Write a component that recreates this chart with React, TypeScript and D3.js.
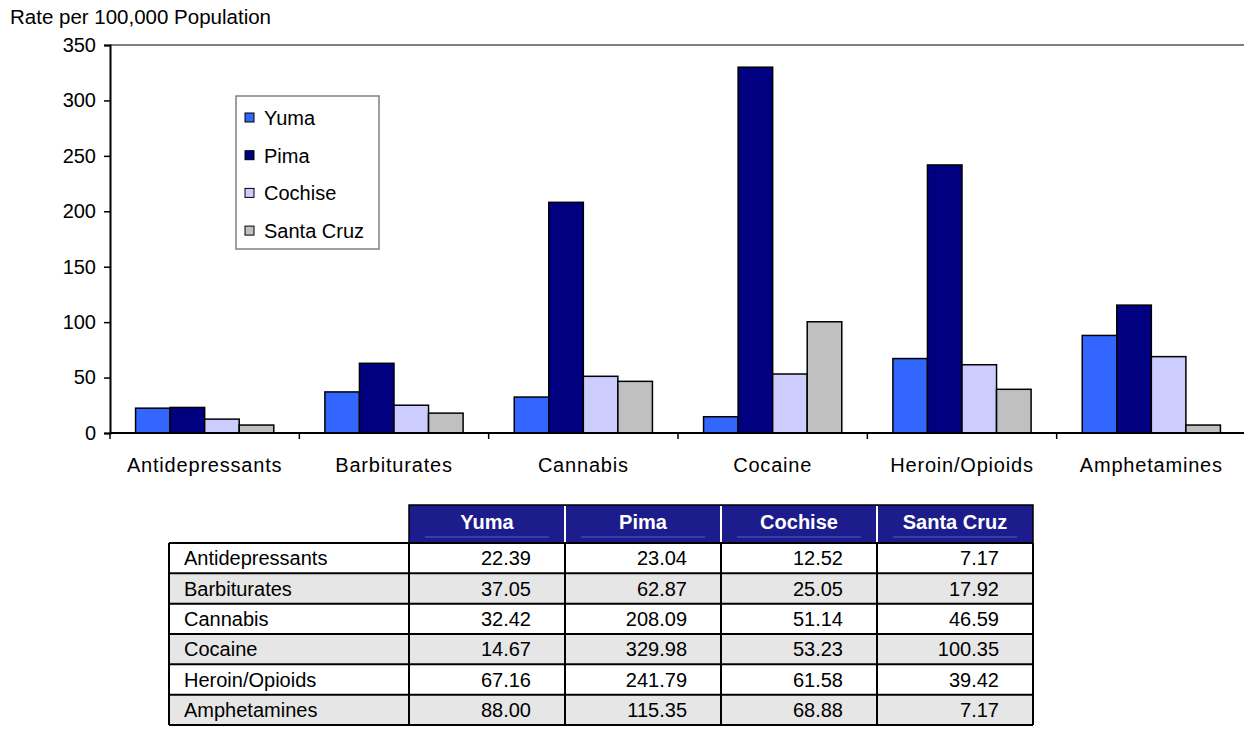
import React, { useEffect, useRef } from "react";
import * as d3 from "d3";

const categories = [
  "Antidepressants",
  "Barbiturates",
  "Cannabis",
  "Cocaine",
  "Heroin/Opioids",
  "Amphetamines",
];
const seriesNames = ["Yuma", "Pima", "Cochise", "Santa Cruz"];
const yuma = [22.39, 37.05, 32.42, 14.67, 67.16, 88.0];
const pima = [23.04, 62.87, 208.09, 329.98, 241.79, 115.35];
const cochise = [12.52, 25.05, 51.14, 53.23, 61.58, 68.88];
const santaCruz = [7.17, 17.92, 46.59, 100.35, 39.42, 7.17];
const yTicks = [0, 50, 100, 150, 200, 250, 300, 350];
const colors = ["#3366FF", "#000080", "#CCCCFF", "#C0C0C0"];

const FONT = "'Liberation Sans', Arial, sans-serif";

const App: React.FC = () => {
  const ref = useRef<SVGSVGElement | null>(null);

  useEffect(() => {
    const svg = d3.select(ref.current);
    svg.selectAll("*").remove();

    const width = 1244,
      height = 751;
    const plot = { left: 110, right: 1246, top: 45, bottom: 433 };
    const values = [yuma, pima, cochise, santaCruz];

    svg.attr("width", width).attr("height", height);
    svg.append("rect").attr("width", width).attr("height", height).attr("fill", "#fff");

    // Scales
    const x0 = d3.scaleBand().domain(categories).range([plot.left, plot.right]).padding(0);
    const x1 = d3
      .scaleBand()
      .domain(seriesNames)
      .range([0, x0.bandwidth()])
      .paddingInner(0)
      .paddingOuter(0.74);
    const y = d3.scaleLinear().domain([0, 350]).range([plot.bottom, plot.top]);

    // Axis title
    svg
      .append("text")
      .attr("x", 10)
      .attr("y", 24)
      .attr("font-family", FONT)
      .attr("font-size", 20.5)
      .attr("fill", "#000")
      .text("Rate per 100,000 Population");

    // Top border of plot
    svg
      .append("line")
      .attr("x1", plot.left)
      .attr("x2", width)
      .attr("y1", plot.top)
      .attr("y2", plot.top)
      .attr("stroke", "#808080")
      .attr("stroke-width", 2);

    // Bars
    const g = svg.append("g");
    categories.forEach((cat, ci) => {
      seriesNames.forEach((s, si) => {
        const v = values[si][ci];
        g.append("rect")
          .attr("x", (x0(cat) ?? 0) + (x1(s) ?? 0))
          .attr("y", y(v))
          .attr("width", x1.bandwidth())
          .attr("height", y(0) - y(v))
          .attr("fill", colors[si])
          .attr("stroke", "#000")
          .attr("stroke-width", 1.5);
      });
    });

    // Y axis
    const yAxis = svg
      .append("g")
      .attr("transform", `translate(${plot.left},0)`)
      .call(d3.axisLeft(y).tickValues(yTicks).tickSize(6).tickPadding(8));
    yAxis.select(".domain").attr("stroke", "#000").attr("stroke-width", 2);
    yAxis.selectAll(".tick line").attr("stroke", "#000").attr("stroke-width", 1.5);
    yAxis
      .selectAll(".tick text")
      .attr("font-family", FONT)
      .attr("font-size", 20)
      .attr("fill", "#000");

    // X axis
    const xAxis = svg.append("g").attr("transform", `translate(0,${plot.bottom})`);
    xAxis
      .append("line")
      .attr("x1", plot.left)
      .attr("x2", width)
      .attr("stroke", "#000")
      .attr("stroke-width", 2);
    const bounds = categories.map((c) => x0(c) ?? 0).concat([plot.right]);
    xAxis
      .selectAll("line.tk")
      .data(bounds)
      .enter()
      .append("line")
      .attr("class", "tk")
      .attr("x1", (d) => d)
      .attr("x2", (d) => d)
      .attr("y1", 0)
      .attr("y2", 6)
      .attr("stroke", "#000")
      .attr("stroke-width", 1.5);
    xAxis
      .selectAll("text")
      .data(categories)
      .enter()
      .append("text")
      .attr("x", (d) => (x0(d) ?? 0) + x0.bandwidth() / 2)
      .attr("y", 39)
      .attr("text-anchor", "middle")
      .attr("font-family", FONT)
      .attr("font-size", 20)
      .attr("letter-spacing", 0.8)
      .attr("fill", "#000")
      .text((d) => d);

    // Legend
    const leg = svg.append("g");
    leg
      .append("rect")
      .attr("x", 236)
      .attr("y", 96)
      .attr("width", 143)
      .attr("height", 153)
      .attr("fill", "#fff")
      .attr("stroke", "#808080")
      .attr("stroke-width", 1.5);
    seriesNames.forEach((s, i) => {
      const cy = 118 + i * 37.7;
      leg
        .append("rect")
        .attr("x", 245)
        .attr("y", cy - 5)
        .attr("width", 9)
        .attr("height", 9)
        .attr("fill", colors[i])
        .attr("stroke", "#000")
        .attr("stroke-width", 1);
      leg
        .append("text")
        .attr("x", 264)
        .attr("y", cy + 7)
        .attr("font-family", FONT)
        .attr("font-size", 20)
        .attr("fill", "#000")
        .text(s);
    });

    // Data table
    const colEdges = [169, 409, 565, 721, 877, 1033];
    const headTop = 505,
      headBottom = 543;
    const rowY = d3.scaleLinear().domain([0, categories.length]).range([headBottom, 725]);
    const t = svg.append("g");

    seriesNames.forEach((s, i) => {
      const xl = colEdges[i + 1],
        xr = colEdges[i + 2];
      t.append("rect")
        .attr("x", xl)
        .attr("y", headTop)
        .attr("width", xr - xl)
        .attr("height", headBottom - headTop)
        .attr("fill", "#1C1C8C");
      t.append("line")
        .attr("x1", xl + 16)
        .attr("x2", xr - 16)
        .attr("y1", headBottom - 6)
        .attr("y2", headBottom - 6)
        .attr("stroke", "#5A5AC8")
        .attr("stroke-width", 1);
      t.append("text")
        .attr("x", (xl + xr) / 2)
        .attr("y", (headTop + headBottom) / 2 + 5)
        .attr("text-anchor", "middle")
        .attr("font-family", FONT)
        .attr("font-size", 20)
        .attr("font-weight", "bold")
        .attr("fill", "#fff")
        .text(s);
    });
    // white separators between header cells
    colEdges.slice(2, 5).forEach((xe) => {
      t.append("line")
        .attr("x1", xe)
        .attr("x2", xe)
        .attr("y1", headTop + 1)
        .attr("y2", headBottom)
        .attr("stroke", "#fff")
        .attr("stroke-width", 2);
    });
    // header outline (top & left)
    t.append("path")
      .attr("d", `M${colEdges[1]},${headBottom}V${headTop}H${colEdges[5]}V${headBottom}`)
      .attr("fill", "none")
      .attr("stroke", "#000")
      .attr("stroke-width", 1.5);

    categories.forEach((cat, ri) => {
      const y0 = rowY(ri),
        y1 = rowY(ri + 1);
      t.append("rect")
        .attr("x", colEdges[0])
        .attr("y", y0)
        .attr("width", colEdges[5] - colEdges[0])
        .attr("height", y1 - y0)
        .attr("fill", ri % 2 === 0 ? "#FFFFFF" : "#E6E6E6");
      const ty = (y0 + y1) / 2 + 7;
      t.append("text")
        .attr("x", colEdges[0] + 15)
        .attr("y", ty)
        .attr("font-family", FONT)
        .attr("font-size", 20)
        .attr("fill", "#000")
        .text(cat);
      values.forEach((vals, si) => {
        t.append("text")
          .attr("x", colEdges[si + 2] - 34)
          .attr("y", ty)
          .attr("text-anchor", "end")
          .attr("font-family", FONT)
          .attr("font-size", 20)
          .attr("fill", "#000")
          .text(vals[ri].toFixed(2));
      });
    });
    // grid lines
    for (let ri = 0; ri <= categories.length; ri++) {
      t.append("line")
        .attr("x1", colEdges[0])
        .attr("x2", colEdges[5])
        .attr("y1", rowY(ri))
        .attr("y2", rowY(ri))
        .attr("stroke", "#000")
        .attr("stroke-width", 2);
    }
    colEdges.forEach((xe) => {
      t.append("line")
        .attr("x1", xe)
        .attr("x2", xe)
        .attr("y1", rowY(0))
        .attr("y2", rowY(categories.length))
        .attr("stroke", "#000")
        .attr("stroke-width", 2);
    });
  }, []);

  return (
    <div style={{ position: "absolute", left: 0, top: 0 }}>
      <svg ref={ref} width={1244} height={751} style={{ display: "block" }}></svg>
    </div>
  );
};

export default App;
